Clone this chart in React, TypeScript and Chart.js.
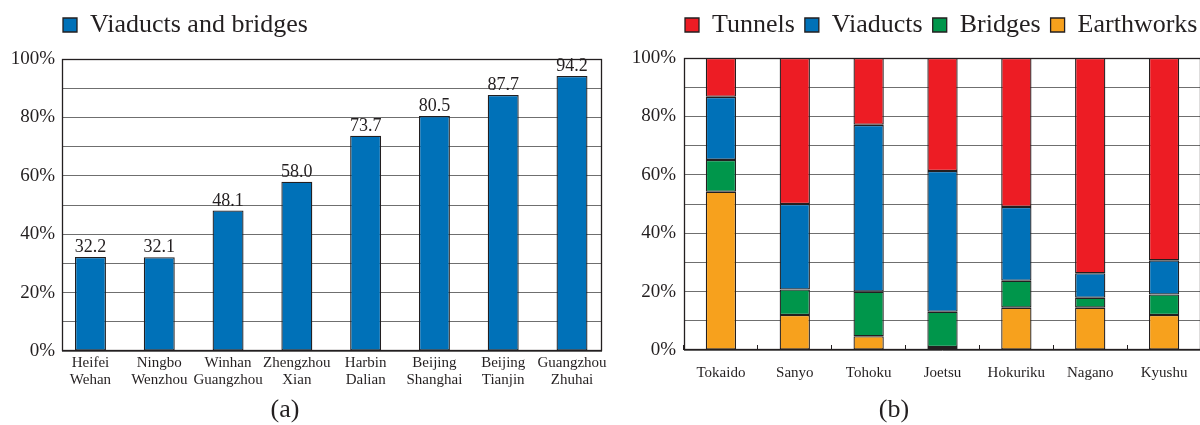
import React, { useEffect, useRef } from 'react';
import { Chart, registerables } from 'chart.js';

Chart.register(...registerables);

const SERIF = '"Liberation Serif", "Times New Roman", serif';
const INK = '#231f20';
const GRID = '#6f6f6f';

// Panel (a)
const routeLabels = [
  ['Heifei', 'Wehan'],
  ['Ningbo', 'Wenzhou'],
  ['Winhan', 'Guangzhou'],
  ['Zhengzhou', 'Xian'],
  ['Harbin', 'Dalian'],
  ['Beijing', 'Shanghai'],
  ['Beijing', 'Tianjin'],
  ['Guangzhou', 'Zhuhai'],
];
const viaductsBridges = [32.2, 32.1, 48.1, 58.0, 73.7, 80.5, 87.7, 94.2];

// Panel (b)
const lineNames = ['Tokaido', 'Sanyo', 'Tohoku', 'Joetsu', 'Hokuriku', 'Nagano', 'Kyushu'];
const earthworks = [54.2, 12.0, 4.7, 1.0, 14.5, 14.5, 12.0];
const bridges = [10.9, 8.7, 15.3, 12.1, 9.2, 3.4, 7.0];
const viaducts = [21.6, 29.3, 57.1, 48.2, 25.3, 8.4, 11.7];
const tunnels = [13.3, 50.0, 22.9, 38.7, 51.0, 73.7, 69.3];

const BLUE = '#0071b8';
const RED = '#ed1c24';
const GREEN = '#00964b';
const ORANGE = '#f7a11d';

const percentLabel = (v: number) => (v % 20 === 0 ? `${v}%` : '');

// Adds vertical space below the legend and shifts it horizontally.
const legendTweak = (extra: number, shift: number) => ({
  id: 'legendTweak',
  beforeInit(chart: any) {
    const legend = chart.legend;
    if (!legend) return;
    const origFit = legend.fit;
    legend.fit = function () {
      origFit.call(this);
      this.height += extra;
    };
  },
  afterLayout(chart: any) {
    const legend = chart.legend;
    if (!legend) return;
    legend.left += shift;
    legend.right += shift;
  },
});

const framePlugin = {
  id: 'frame',
  beforeDatasetsDraw(chart: any) {
    const { ctx, chartArea } = chart;
    const l = Math.round(chartArea.left) + 0.5;
    const t = Math.round(chartArea.top) + 0.5;
    const r = Math.round(chartArea.right) - 0.5;
    const b = Math.round(chartArea.bottom) - 0.5;
    ctx.save();
    ctx.strokeStyle = INK;
    ctx.lineWidth = 1.3;
    ctx.strokeRect(l, t, r - l, b - t);
    ctx.restore();
  },
};

const valueLabels = {
  id: 'valueLabels',
  afterDatasetsDraw(chart: any) {
    const { ctx } = chart;
    const meta = chart.getDatasetMeta(0);
    ctx.save();
    ctx.font = `18px ${SERIF}`;
    ctx.fillStyle = INK;
    ctx.textAlign = 'center';
    ctx.textBaseline = 'alphabetic';
    meta.data.forEach((bar: any, i: number) => {
      ctx.fillText(viaductsBridges[i].toFixed(1), bar.x, bar.y - 5);
    });
    ctx.restore();
  },
};

const yAxis = (width: number, pad: number) => ({
  min: 0,
  max: 100,
  ticks: {
    stepSize: 10,
    padding: pad,
    autoSkip: false,
    color: INK,
    font: { family: SERIF, size: 19 },
    callback: (v: any) => percentLabel(Number(v)),
  },
  grid: { color: GRID, lineWidth: 1, drawTicks: false },
  border: { display: false },
  afterFit: (s: any) => {
    s.width = width;
  },
});

const legendOpts = {
  display: true,
  position: 'top' as const,
  align: 'start' as const,
  labels: {
    boxWidth: 14,
    boxHeight: 14,
    padding: 10,
    color: INK,
    font: { family: SERIF, size: 26 },
  },
};

export default function App() {
  const refA = useRef<HTMLCanvasElement>(null);
  const refB = useRef<HTMLCanvasElement>(null);

  useEffect(() => {
    if (!refA.current || !refB.current) return;

    const chartA = new Chart(refA.current, {
      type: 'bar',
      data: {
        datasets: [
          {
            label: 'Viaducts and bridges',
            data: viaductsBridges.map((v, i) => ({ x: i, y: v })),
            backgroundColor: BLUE,
            borderColor: INK,
            borderWidth: 1.3,
            borderSkipped: false,
            barPercentage: 0.45,
            categoryPercentage: 1,
          },
        ],
      },
      options: {
        responsive: false,
        animation: false,
        layout: { padding: { left: 0, right: 13, top: 2, bottom: 0 } },
        plugins: {
          legend: legendOpts,
          tooltip: { enabled: false },
          title: { display: false },
        },
        scales: {
          x: {
            type: 'linear',
            bounds: 'data',
            offset: false,
            min: -0.414,
            max: 7.436,
            grid: { display: false, drawTicks: false },
            border: { display: false },
            afterBuildTicks: (s: any) => {
              s.ticks = routeLabels.map((_, i) => ({ value: i }));
            },
            ticks: {
              autoSkip: false,
              maxRotation: 0,
              minRotation: 0,
              padding: 4,
              color: INK,
              font: { family: SERIF, size: 15, lineHeight: 1.1 },
              callback: (v: any) => {
                const n = Math.round(Number(v));
                return routeLabels[n] ? routeLabels[n] : '';
              },
            },
            afterFit: (s: any) => {
              s.height = 74;
            },
          },
          y: yAxis(62, 7),
        },
      } as any,
      plugins: [legendTweak(11, 53), framePlugin, valueLabels],
    });

    const chartB = new Chart(refB.current, {
      type: 'bar',
      data: {
        labels: lineNames,
        datasets: [
          { label: 'Earthworks', data: earthworks, backgroundColor: ORANGE },
          { label: 'Bridges', data: bridges, backgroundColor: GREEN },
          { label: 'Viaducts', data: viaducts, backgroundColor: BLUE },
          { label: 'Tunnels', data: tunnels, backgroundColor: RED },
        ].map((d) => ({
          ...d,
          borderColor: INK,
          borderWidth: 1.3,
          borderSkipped: false,
          barPercentage: 0.41,
          categoryPercentage: 1,
        })),
      },
      options: {
        responsive: false,
        animation: false,
        layout: { padding: { left: 0, right: 0, top: 2, bottom: 0 } },
        plugins: {
          legend: { ...legendOpts, reverse: true },
          tooltip: { enabled: false },
          title: { display: false },
        },
        scales: {
          x: {
            stacked: true,
            grid: {
              display: true,
              drawOnChartArea: false,
              offset: true,
              drawTicks: true,
              tickLength: -5,
              color: INK,
              tickColor: INK,
              lineWidth: 1,
            },
            border: { display: false },
            ticks: {
              autoSkip: false,
              maxRotation: 0,
              minRotation: 0,
              padding: 19,
              color: INK,
              font: { family: SERIF, size: 15 },
            },
            afterFit: (s: any) => {
              s.height = 75;
            },
          },
          y: { ...yAxis(69, 8), stacked: true },
          y2: {
            position: 'right',
            display: true,
            grid: { display: false, drawTicks: false },
            ticks: { display: false },
            border: { display: false },
            afterFit: (s: any) => {
              s.width = 39;
            },
          },
        },
      } as any,
      plugins: [legendTweak(10, 60), framePlugin],
    });

    return () => {
      chartA.destroy();
      chartB.destroy();
    };
  }, []);

  const caption: React.CSSProperties = {
    position: 'absolute',
    top: 394,
    width: 80,
    textAlign: 'center',
    fontFamily: SERIF,
    fontSize: 26,
    lineHeight: '30px',
    color: INK,
  };

  return (
    <div
      style={{
        position: 'absolute',
        left: 0,
        top: 0,
        width: 1200,
        height: 425,
        overflow: 'hidden',
        background: '#ffffff',
      }}
    >
      <div style={{ position: 'absolute', left: 0, top: 0, width: 615, height: 425 }}>
        <canvas ref={refA} width={615} height={425} style={{ width: 615, height: 425, display: 'block' }} />
      </div>
      <div style={{ position: 'absolute', left: 615, top: 0, width: 625, height: 425 }}>
        <canvas ref={refB} width={625} height={425} style={{ width: 625, height: 425, display: 'block' }} />
      </div>
      <div style={{ ...caption, left: 245 }}>(a)</div>
      <div style={{ ...caption, left: 854 }}>(b)</div>
    </div>
  );
}
